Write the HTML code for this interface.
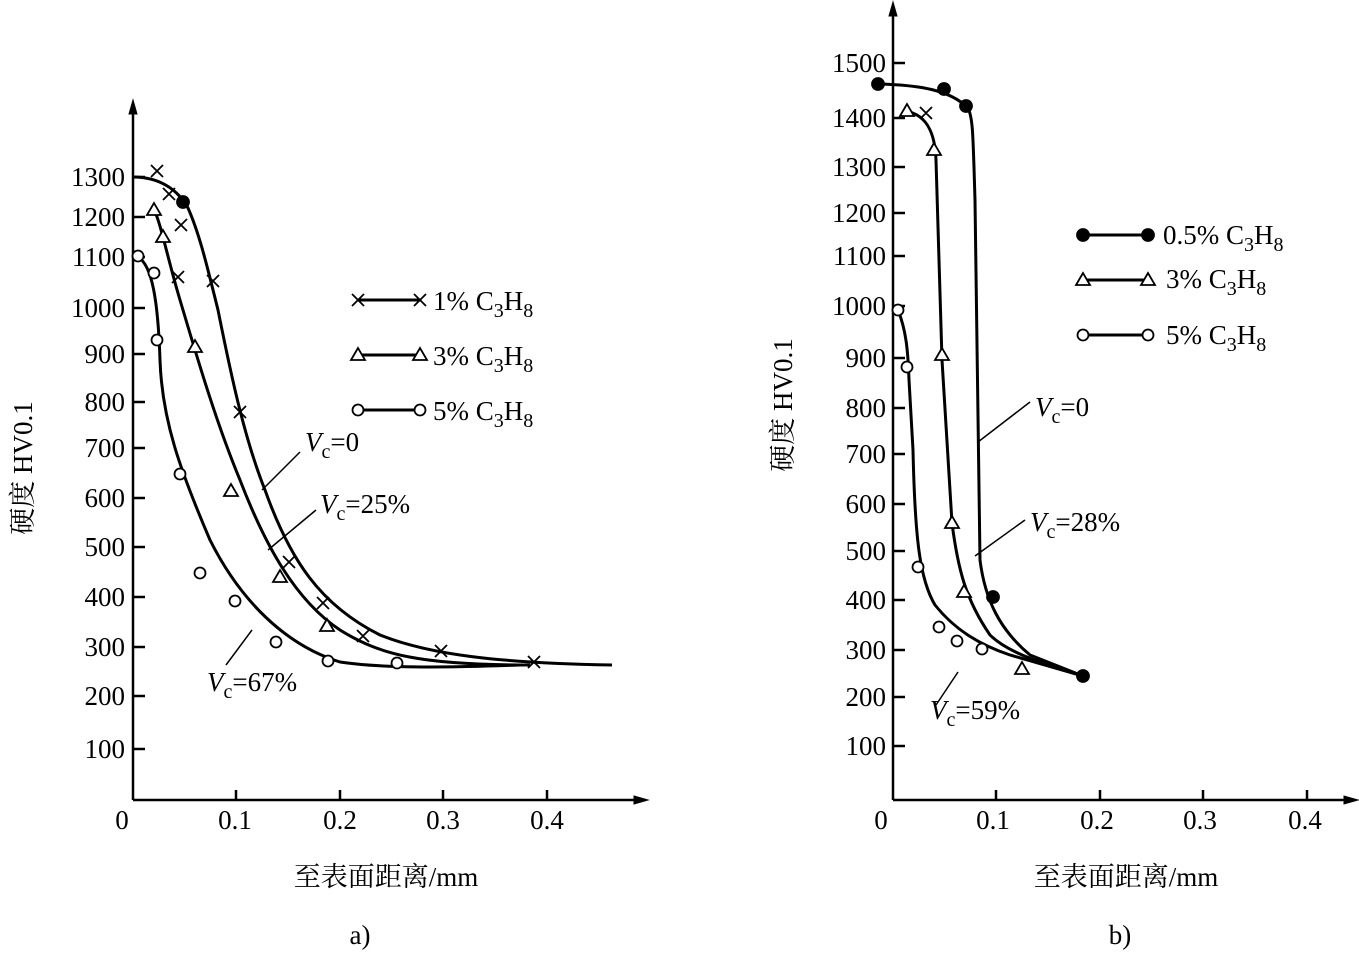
<!DOCTYPE html><html><head><meta charset="utf-8"><style>body{margin:0;background:#fff}svg text{font-family:"Liberation Serif","Noto Serif CJK SC",serif;font-size:27px;fill:#000}</style></head><body>
<svg width="1359" height="950" viewBox="0 0 1359 950" xmlns="http://www.w3.org/2000/svg">
<g stroke="#000" fill="none" stroke-width="2.5">
<path d="M133,800V108M133,800H640"/>
<path d="M133,100l-4,14h8z M648,800l-14,-4v8z" fill="#000" stroke-width="1"/>
<path d="M133,177h12M133,217h12M133,257h12M133,308h12M133,354h12M133,402h12M133,448h12M133,498h12M133,547h12M133,597h12M133,647h12M133,696h12M133,749h12M236,800v-10M340,800v-10M443,800v-10M547,800v-10"/>
<path d="M893,800V12M893,800H1350"/>
<path d="M893,2l-4,14h8z M1358,800l-14,-4v8z" fill="#000" stroke-width="1"/>
<path d="M893,63h12M893,118h12M893,167h12M893,213h12M893,256h12M893,306h12M893,358h12M893,408h12M893,454h12M893,504h12M893,551h12M893,600h12M893,650h12M893,697h12M893,746h12M996,800v-10M1100,800v-10M1203,800v-10M1307,800v-10"/>
<path d="M133,177C160,177 178,190 188,208C200,235 208,270 218,310C232,380 245,440 265,490C290,560 320,605 380,635C430,655 500,663 612,665" stroke-width="3"/>
<path d="M154,210C160,220 168,260 180,300C195,350 215,420 240,480C265,545 295,600 340,630C380,655 420,665 530,665" stroke-width="3"/>
<path d="M138,257C152,265 158,300 160,360C162,420 180,470 210,540C240,600 285,645 340,662C380,668 440,668 520,665" stroke-width="3"/>
<path d="M878,84C920,85 950,90 968,108C973,118 973,135 975,200L980,560C985,600 1000,630 1030,655L1083,676" stroke-width="3"/>
<path d="M905,111C925,114 935,130 936,160L942,360L952,523C958,570 966,600 990,635C1010,655 1050,665 1083,676" stroke-width="3"/>
<path d="M898,310C906,330 908,350 909,380L913,450C915,540 920,580 935,605C955,630 980,645 1010,655L1083,676" stroke-width="3"/>
<path d="M262,490L300,452M268,550L316,510M226,665L252,630M978,442L1030,402M975,556L1025,520M936,705L958,672" stroke-width="1.5"/>
<path d="M358,300H420M358,355H420M358,410H420M1083,235H1148M1083,280H1148M1083,335H1148" stroke-width="3"/>
</g>
<g stroke="#000" stroke-width="1.8" fill="none">
<path d="M151,165l12,12M163,165l-12,12M163,188l12,12M175,188l-12,12M175,219l12,12M187,219l-12,12M172,271l12,12M184,271l-12,12M207,275l12,12M219,275l-12,12M234,406l12,12M246,406l-12,12M283,556l12,12M295,556l-12,12M317,597l12,12M329,597l-12,12M357,630l12,12M369,630l-12,12M435,645l12,12M447,645l-12,12M528,656l12,12M540,656l-12,12M920,107l12,12M932,107l-12,12M352,294l12,12M364,294l-12,12M414,294l12,12M426,294l-12,12"/>
<g fill="#fff">
<path d="M154,203l-7,12h14z M163,230l-7,12h14z M195,340l-7,12h14z M231,484l-7,12h14z M280,570l-7,12h14z M327,619l-7,12h14z M907,104l-7,12h14z M934,143l-7,12h14z M942,348l-7,12h14z M952,516l-7,12h14z M964,585l-7,12h14z M1022,662l-7,12h14z M358,348l-7,12h14z M420,348l-7,12h14z M1083,273l-7,12h14z M1148,273l-7,12h14z"/>
<circle cx="138" cy="256" r="5.5"/><circle cx="154" cy="273" r="5.5"/><circle cx="157" cy="340" r="5.5"/><circle cx="180" cy="474" r="5.5"/><circle cx="200" cy="573" r="5.5"/><circle cx="235" cy="601" r="5.5"/><circle cx="276" cy="642" r="5.5"/><circle cx="328" cy="661" r="5.5"/><circle cx="397" cy="663" r="5.5"/>
<circle cx="898" cy="310" r="5.5"/><circle cx="907" cy="367" r="5.5"/><circle cx="918" cy="567" r="5.5"/><circle cx="939" cy="627" r="5.5"/><circle cx="957" cy="641" r="5.5"/><circle cx="982" cy="649" r="5.5"/>
<circle cx="358" cy="410" r="5.5"/><circle cx="420" cy="410" r="5.5"/><circle cx="1083" cy="335" r="5.5"/><circle cx="1148" cy="335" r="5.5"/>
</g>
<g fill="#000">
<circle cx="183" cy="202" r="6"/><circle cx="878" cy="84" r="6"/><circle cx="944" cy="89" r="6"/><circle cx="966" cy="106" r="6"/><circle cx="993" cy="597" r="6"/><circle cx="1083" cy="676" r="6"/>
<circle cx="1083" cy="235" r="6"/><circle cx="1148" cy="235" r="6"/>
</g></g>
<g text-anchor="end" font-size="26">
<text x="125" y="186">1300</text><text x="125" y="226">1200</text><text x="125" y="266">1100</text><text x="125" y="317">1000</text><text x="125" y="363">900</text><text x="125" y="411">800</text><text x="125" y="457">700</text><text x="125" y="507">600</text><text x="125" y="556">500</text><text x="125" y="606">400</text><text x="125" y="656">300</text><text x="125" y="705">200</text><text x="125" y="758">100</text>
<text x="886" y="72">1500</text><text x="886" y="127">1400</text><text x="886" y="176">1300</text><text x="886" y="222">1200</text><text x="886" y="265">1100</text><text x="886" y="315">1000</text><text x="886" y="367">900</text><text x="886" y="417">800</text><text x="886" y="463">700</text><text x="886" y="513">600</text><text x="886" y="560">500</text><text x="886" y="609">400</text><text x="886" y="659">300</text><text x="886" y="706">200</text><text x="886" y="755">100</text>
</g>
<g text-anchor="middle">
<text x="122" y="829">0</text><text x="235" y="829">0.1</text><text x="340" y="829">0.2</text><text x="443" y="829">0.3</text><text x="547" y="829">0.4</text>
<text x="881" y="829">0</text><text x="993" y="829">0.1</text><text x="1097" y="829">0.2</text><text x="1200" y="829">0.3</text><text x="1305" y="829">0.4</text>
<text x="386" y="886" font-size="31">至表面距离/mm</text><text x="1126" y="886" font-size="31">至表面距离/mm</text>
<text x="360" y="944">a)</text><text x="1120" y="944">b)</text>
<text transform="translate(32,468) rotate(-90)" font-size="30">硬度  HV0.1</text>
<text transform="translate(792,405) rotate(-90)" font-size="30">硬度  HV0.1</text>
</g>
<g font-size="29">
<text x="433" y="310">1% C<tspan font-size="20" dy="7">3</tspan><tspan dy="-7">H</tspan><tspan font-size="20" dy="7">8</tspan></text>
<text x="433" y="365">3% C<tspan font-size="20" dy="7">3</tspan><tspan dy="-7">H</tspan><tspan font-size="20" dy="7">8</tspan></text>
<text x="433" y="420">5% C<tspan font-size="20" dy="7">3</tspan><tspan dy="-7">H</tspan><tspan font-size="20" dy="7">8</tspan></text>
<text x="1163" y="244">0.5% C<tspan font-size="20" dy="7">3</tspan><tspan dy="-7">H</tspan><tspan font-size="20" dy="7">8</tspan></text>
<text x="1166" y="288">3% C<tspan font-size="20" dy="7">3</tspan><tspan dy="-7">H</tspan><tspan font-size="20" dy="7">8</tspan></text>
<text x="1166" y="344">5% C<tspan font-size="20" dy="7">3</tspan><tspan dy="-7">H</tspan><tspan font-size="20" dy="7">8</tspan></text>
<text x="305" y="451"><tspan font-style="italic">V</tspan><tspan font-size="20" dy="7">c</tspan><tspan dy="-7">=0</tspan></text>
<text x="320" y="513"><tspan font-style="italic">V</tspan><tspan font-size="20" dy="7">c</tspan><tspan dy="-7">=25%</tspan></text>
<text x="207" y="691"><tspan font-style="italic">V</tspan><tspan font-size="20" dy="7">c</tspan><tspan dy="-7">=67%</tspan></text>
<text x="1035" y="416"><tspan font-style="italic">V</tspan><tspan font-size="20" dy="7">c</tspan><tspan dy="-7">=0</tspan></text>
<text x="1030" y="531"><tspan font-style="italic">V</tspan><tspan font-size="20" dy="7">c</tspan><tspan dy="-7">=28%</tspan></text>
<text x="930" y="719"><tspan font-style="italic">V</tspan><tspan font-size="20" dy="7">c</tspan><tspan dy="-7">=59%</tspan></text>
</g>
</svg></body></html>
